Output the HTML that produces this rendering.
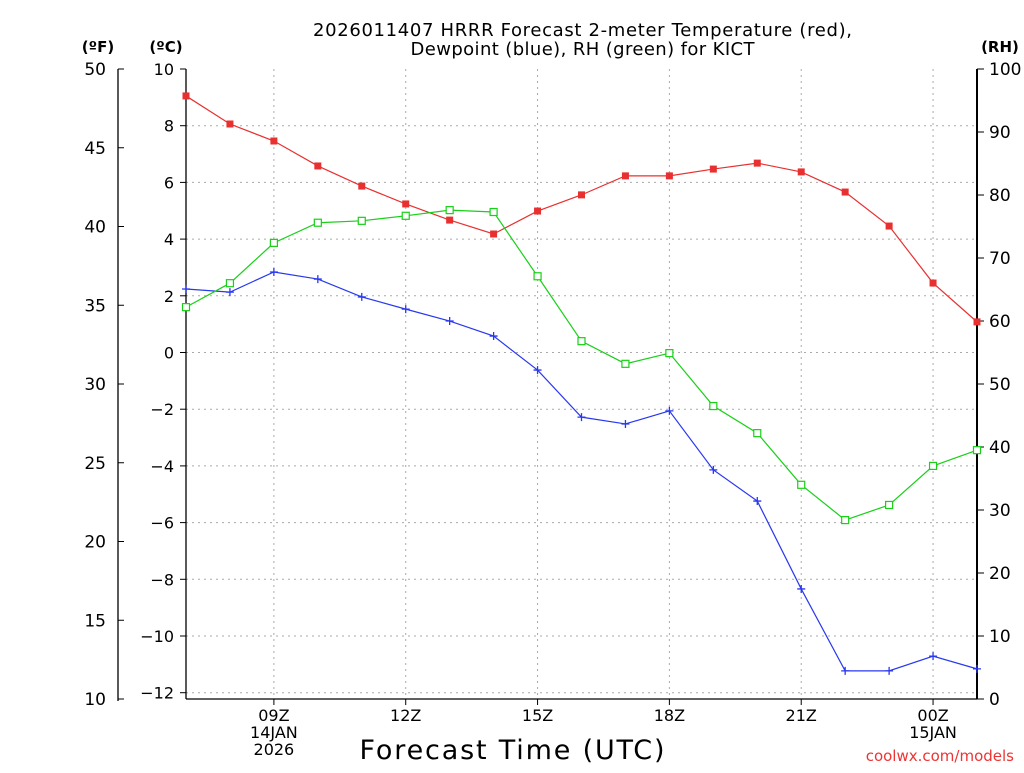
<!DOCTYPE html>
<html><head><meta charset="utf-8"><style>
body{margin:0;background:#fff;}
svg text{font-family:"DejaVu Sans","Liberation Sans",sans-serif;}
</style></head><body>
<svg id="chart" width="1024" height="768" xmlns="http://www.w3.org/2000/svg">
<text x="583" y="36" font-size="18" letter-spacing="1" text-anchor="middle" textLength="540">2026011407 HRRR Forecast 2-meter Temperature (red),</text>
<text x="583" y="55" font-size="18" letter-spacing="1" text-anchor="middle" textLength="345">Dewpoint (blue), RH (green) for KICT</text>
<text x="98" y="52" font-size="15" font-weight="bold" text-anchor="middle">(ºF)</text>
<text x="166" y="52" font-size="15" font-weight="bold" text-anchor="middle">(ºC)</text>
<text x="1000" y="52" font-size="15" font-weight="bold" text-anchor="middle">(RH)</text>
<text x="512" y="759" font-size="27" text-anchor="middle" textLength="305">Forecast Time (UTC)</text>
<text x="1014" y="761" font-size="15" fill="#e33" text-anchor="end">coolwx.com/models</text>
<g id="grid"></g><g id="axes"></g><g id="series"></g>
</svg>
<script>
const hours=[7,8,9,10,11,12,13,14,15,16,17,18,19,20,21,22,23,24,25];
const tempC=[9.05,8.06,7.46,6.58,5.87,5.24,4.67,4.18,4.99,5.56,6.23,6.23,6.47,6.68,6.37,5.66,4.46,2.45,1.08];
const dewC=[2.24,2.13,2.84,2.59,1.96,1.53,1.11,0.58,-0.62,-2.28,-2.52,-2.06,-4.14,-5.24,-8.34,-11.23,-11.23,-10.71,-11.16];
const rh=[62.2,66.0,72.4,75.6,75.9,76.7,77.6,77.3,67.1,56.8,53.2,54.9,46.5,42.2,34.0,28.4,30.8,37.0,39.5];
const cTicks=[10,8,6,4,2,0,-2,-4,-6,-8,-10,-12];
const fTicks=[50,45,40,35,30,25,20,15,10];
const rhTicks=[100,90,80,70,60,50,40,30,20,10,0];
const xTickHours=[9,12,15,18,21,24];
const xTickLabels=[["09Z","14JAN","2026"],["12Z"],["15Z"],["18Z"],["21Z"],["00Z","15JAN"]];
const L=186,R=977,T=69,B=699;
const NS="http://www.w3.org/2000/svg";
const x=h=>L+(h-7)/18*(R-L);
const yF=f=>B-(f-10)/40*(B-T);
const yC=c=>yF(c*9/5+32);
const yR=r=>B-r/100*(B-T);
function mk(tag,attrs,parent,text){const e=document.createElementNS(NS,tag);for(const k in attrs)e.setAttribute(k,attrs[k]);if(text!==undefined)e.textContent=text;document.getElementById(parent).appendChild(e);return e;}
cTicks.forEach(c=>{const y=yC(c);
 if(c<10){const g=mk('line',{x1:L,x2:R,y1:y,y2:y,stroke:'#aaa','stroke-dasharray':'2,4'},'grid');
 
 }
 const t=mk('line',{x1:L-6,x2:L,y1:y,y2:y,stroke:'#000'},'axes');
 
 
 const l=mk('text',{x:L-12,y:y+6,'font-size':16,'text-anchor':'end','font-family':'Liberation Sans, sans-serif'},'axes',c<0?'\u2212'+(-c):String(c));
 
 });
fTicks.forEach(f=>{const y=yF(f);
 const t=mk('line',{x1:118,x2:124,y1:y,y2:y,stroke:'#000'},'axes');
 
 
 const l=mk('text',{x:106,y:y+6,'font-size':17,'text-anchor':'end','font-family':'Liberation Sans, sans-serif'},'axes',String(f));
 
 });
rhTicks.forEach(r=>{const y=yR(r);
 const t=mk('line',{x1:R,x2:R+7,y1:y,y2:y,stroke:'#000'},'axes');
 
 
 const l=mk('text',{x:R+12,y:y+6,'font-size':17,'font-family':'Liberation Sans, sans-serif'},'axes',String(r));
 
 });
xTickHours.forEach((h,i)=>{const xx=x(h);
 const g=mk('line',{x1:xx,x2:xx,y1:T,y2:B,stroke:'#aaa','stroke-dasharray':'2,4'},'grid');
 
 
 const t=mk('line',{x1:xx,x2:xx,y1:B,y2:B+6,stroke:'#000'},'axes');
 
 
 xTickLabels[i].forEach((s,j)=>{const l=mk('text',{x:xx,y:B+22+j*17,'font-size':16,'text-anchor':'middle','font-family':'Liberation Sans, sans-serif'},'axes',s);
 
 });});
[[L,T,L,B],[L,B,R,B],[118,T,118,B+2],[R,T,R,B]].forEach((a,i)=>{
 const e=mk('line',{x1:a[0],y1:a[1],x2:a[2],y2:a[3],stroke:'#000','stroke-width':i==3?2:1.3},'axes');
 
 });
function series(vals,yf,color,kind,name){
 const pl=mk('polyline',{points:vals.map((v,i)=>x(hours[i])+','+yf(v)).join(' '),fill:'none',stroke:color,'stroke-width':1.2},'series');
 
 
 vals.forEach((v,i)=>{const cx=x(hours[i]),cy=yf(v);let m;
  if(kind==='fill')m=mk('rect',{x:cx-3.5,y:cy-3.5,width:7,height:7,fill:color},'series');
  else if(kind==='open')m=mk('rect',{x:cx-3.5,y:cy-3.5,width:7,height:7,fill:'#fff',stroke:color,'stroke-width':1.2},'series');
  else m=mk('path',{d:`M${cx-4},${cy}H${cx+4}M${cx},${cy-4}V${cy+4}`,stroke:color,'stroke-width':1.3},'series');
  
  });}
series(tempC,yC,'#e83030','fill','temperature');
series(dewC,yC,'#2838f0','plus','dewpoint');
series(rh,yR,'#18d018','open','relative-humidity');
</script>
</body></html>
